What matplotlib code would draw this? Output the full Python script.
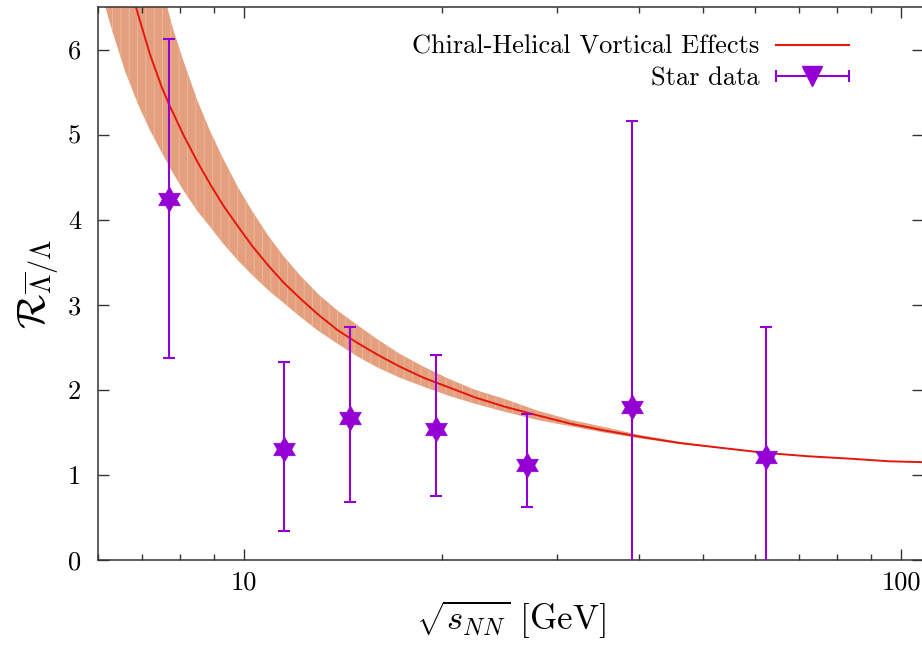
import numpy as np
import matplotlib
matplotlib.use("Agg")
import matplotlib.pyplot as plt
from matplotlib.path import Path
from matplotlib.lines import Line2D
from matplotlib.legend_handler import HandlerLine2D

plt.rcParams['font.family'] = 'serif'
plt.rcParams['font.serif'] = ['cmr10']
plt.rcParams['mathtext.fontset'] = 'cm'
plt.rcParams['axes.unicode_minus'] = False
plt.rcParams['axes.formatter.use_mathtext'] = True
plt.rcParams['hatch.linewidth'] = 0.6

# ---- data ----
energy = [7.7, 11.5, 14.5, 19.6, 27.0, 39.0, 62.4]
ratio = [4.24, 1.31, 1.67, 1.54, 1.12, 1.80, 1.21]
err_low = [1.86, 0.97, 0.99, 0.79, 0.50, 3.36, 1.53]
err_high = [1.88, 1.02, 1.07, 0.87, 0.60, 3.36, 1.53]

curve_x = [6.0, 6.3, 6.6, 6.9, 7.2, 7.5, 7.7, 7.8, 8.1, 8.5, 8.9, 9.3, 9.8, 10.3,
           10.9, 11.5, 12.2, 13.0, 13.9, 14.9, 16.0, 17.3, 18.8, 20.5, 22.5, 25.0,
           28.0, 31.5, 35.5, 40.0, 46.0, 53.0, 62.0, 72.0, 84.0, 96.0, 108.0]
curve_y = [8.44, 7.63, 6.96, 6.42, 5.94, 5.56, 5.35, 5.26, 4.99, 4.68, 4.41, 4.17,
           3.92, 3.69, 3.46, 3.26, 3.07, 2.88, 2.70, 2.55, 2.41, 2.27, 2.14, 2.03,
           1.91, 1.80, 1.70, 1.60, 1.52, 1.45, 1.375, 1.32, 1.26, 1.22, 1.19, 1.16,
           1.15]

band_x = [6.0, 6.3, 6.6, 6.9, 7.2, 7.5, 7.8, 8.1, 8.5, 8.9, 9.3, 9.8, 10.3, 10.9,
          11.5, 12.2, 13.0, 13.9, 14.9, 16.0, 17.3, 18.8, 20.5, 22.5, 25.0, 28.0,
          31.5, 35.5, 40.0, 46.0, 53.0, 62.0]
band_hi = [9.5, 9.2, 8.6, 7.9, 7.2, 6.75, 6.25, 5.86, 5.40, 5.03, 4.72, 4.38, 4.10,
           3.81, 3.57, 3.34, 3.12, 2.93, 2.76, 2.59, 2.42, 2.27, 2.13, 2.00, 1.89,
           1.755, 1.645, 1.56, 1.47, 1.39, 1.325, 1.26]
band_lo = [6.80, 6.23, 5.74, 5.36, 5.05, 4.79, 4.55, 4.34, 4.10, 3.91, 3.72, 3.52,
           3.35, 3.17, 3.02, 2.855, 2.69, 2.54, 2.39, 2.26, 2.14, 2.035, 1.93, 1.835,
           1.74, 1.645, 1.57, 1.495, 1.43, 1.365, 1.315, 1.26]

x_ticks = [10, 100]
y_ticks = [0, 1, 2, 3, 4, 5, 6]

violet = '#9400D3'
red = '#E3170D'
band_color = '#E4A07E'

# hexagram marker
ang_out = np.deg2rad(90 + 60 * np.arange(6))
ang_in = np.deg2rad(120 + 60 * np.arange(6))
verts = []
for ao, ai in zip(ang_out, ang_in):
    verts.append((np.cos(ao), np.sin(ao)))
    verts.append((np.cos(ai) / np.sqrt(3), np.sin(ai) / np.sqrt(3)))
verts.append(verts[0])
codes = [Path.MOVETO] + [Path.LINETO] * 11 + [Path.CLOSEPOLY]
hexagram = Path(verts, codes)

fig = plt.figure(figsize=(9.22, 6.51), dpi=100)
ax = fig.add_axes([98 / 922, 1 - 560 / 651, 825 / 922, 553 / 651])

ax.fill_between(band_x, band_lo, band_hi, facecolor=band_color,
                edgecolor='#EDBA9F', hatch='||', lw=0, zorder=1)
ax.plot(curve_x, curve_y, color=red, lw=1.4, zorder=2)

ax.errorbar(energy, ratio, yerr=[err_low, err_high], fmt='none', ecolor=violet,
            elinewidth=1.5, capsize=4, capthick=1.5, zorder=3)
ax.plot(energy, ratio, linestyle='none', marker=hexagram, markersize=18,
        color=violet, markeredgecolor=violet, markeredgewidth=0.5, zorder=4)

ax.set_xscale('log')
ax.set_xlim(6.0, 108)
ax.set_ylim(0, 6.5)
ax.set_xticks(x_ticks)
ax.set_xticklabels([str(t) for t in x_ticks])
ax.set_yticks(y_ticks)
ax.set_yticklabels([str(t) for t in y_ticks])
ax.tick_params(axis='both', which='both', direction='in', top=True, right=True,
               labelsize=19, width=1.0, color='#333333')
ax.tick_params(axis='both', which='major', length=8)
ax.tick_params(axis='x', which='minor', length=4.5)
ax.tick_params(axis='y', which='major', pad=12)
ax.tick_params(axis='x', which='major', pad=8)
ax.xaxis.set_minor_formatter(matplotlib.ticker.NullFormatter())
for s in ax.spines.values():
    s.set_linewidth(1.1)
    s.set_color('#333333')

ax.set_xlabel(r'$\sqrt{s_{NN}}$ [GeV]', fontsize=25, labelpad=3)
ax.set_ylabel(r'$\mathcal{R}_{\overline{\Lambda}/\Lambda}$', fontsize=29, labelpad=5)

# legend
h_curve = Line2D([], [], color=red, lw=1.5)
h_caps = Line2D([], [], color=violet, lw=1.5, marker='|', markersize=8,
                markeredgewidth=1.5)
h_tri = Line2D([], [], linestyle='none', color=violet, marker='v', markersize=15)
leg = ax.legend([h_curve, (h_caps, h_tri)],
                ['Chiral-Helical Vortical Effects', 'Star data'],
                handler_map={h_caps: HandlerLine2D(numpoints=2, marker_pad=0),
                             h_tri: HandlerLine2D(numpoints=1)},
                loc='upper right', bbox_to_anchor=(0.910, 0.949), frameon=False,
                fontsize=19, markerfirst=False, handlelength=2.75,
                handletextpad=0.65, labelspacing=0.3, borderpad=0, borderaxespad=0)

fig.savefig('out.png', dpi=100)
